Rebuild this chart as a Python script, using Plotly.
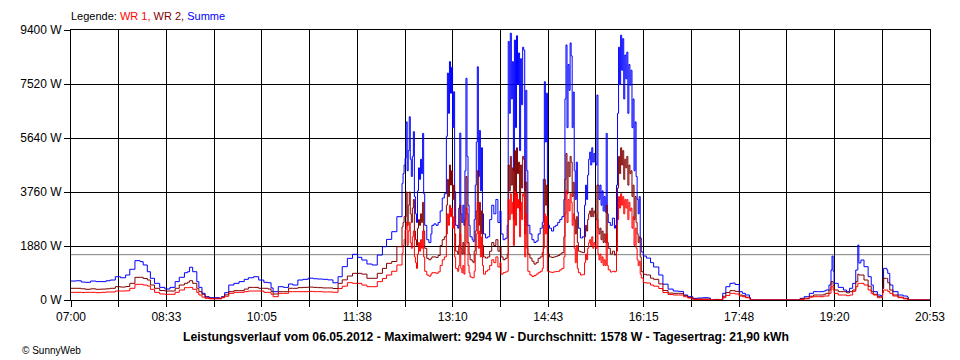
import plotly.graph_objects as go

# ---- data (minutes after 07:00, power in W) ----
minutes = [
    0, 5, 10, 14, 19, 24, 29, 34, 38, 43, 48, 53, 57, 62, 67, 70, 74, 77, 81, 86,
    91, 96, 101, 105, 110, 113, 115, 118, 122, 124, 127, 130, 134, 139, 144, 146, 149, 153, 158, 163,
    168, 172, 177, 182, 187, 191, 194, 196, 201, 206, 211, 215, 220, 225, 230, 235, 239, 244, 249, 254,
    259, 263, 268, 273, 278, 282, 287, 292, 297, 302, 306, 311, 316,
    321, 322, 323, 324, 325, 326, 327, 328, 329, 330, 331, 332, 333, 334, 335, 336, 337, 338, 339, 340,
    341, 342, 343, 345, 347, 349, 350, 352, 354, 356, 358, 360, 362, 364, 365, 366, 367, 368, 369, 370,
    371, 372, 373, 375, 376, 377, 378, 379, 380, 381, 382, 383, 384, 385, 386, 387, 389, 390, 391, 392,
    393, 394, 395, 396, 397, 398, 399, 400, 402, 404, 406, 408, 410, 412, 414, 416, 417, 419, 421, 423,
    424, 425, 426, 427, 428, 429, 430, 431, 432, 433, 434, 435, 436, 437, 438, 439, 440, 441, 442, 443,
    445, 447, 449, 451, 453, 455, 457, 458, 459, 460, 461, 462, 464, 466, 468, 470, 472, 474, 476, 478,
    479, 480, 481, 482, 483, 484, 485, 486, 487, 488, 489, 490, 491, 492, 494, 496, 498, 499, 500, 501,
    502, 503, 504, 505, 506, 507, 508, 509, 510, 511, 512, 513, 514, 515, 516, 517, 518, 519, 520, 521,
    523, 525, 527, 528, 529, 530, 531, 532, 533, 534, 535, 536, 537, 538, 539, 540, 541, 542, 543, 544,
    545, 546, 547, 548, 549, 550, 551, 552, 553, 555,
    558, 562, 565, 570, 574, 579, 584, 589, 594, 598, 603, 608, 613, 618, 620, 624, 628, 632, 635, 639,
    642, 644, 648, 651, 654, 658, 659, 707, 711, 716, 720, 725, 730, 732, 735, 737, 738, 739, 740, 744,
    749, 752, 755, 758, 761, 763, 764, 766, 769, 773, 776, 778, 782, 785, 787, 788, 791, 792, 794, 797,
    802, 807, 811, 812, 833,
]

summe = [
    660, 670, 625, 615, 660, 640, 640, 670, 695, 810, 775, 870, 1070, 1370, 1335, 1220, 985, 755, 580, 440,
    383, 440, 640, 790, 950, 985, 1140, 985, 640, 440, 232, 115, 80, 80, 58, 115, 255, 522, 580, 640,
    720, 775, 810, 695, 615, 600, 420, 290, 463, 440, 557, 520, 696, 720, 760, 740, 730, 720, 700, 600,
    810, 1160, 1450, 1590, 1485, 1392, 1253, 1218, 1566, 1856, 2110, 2378, 2900,
    4060, 4400, 4700, 4940, 6200, 4500, 5200, 6380, 4900, 4300, 5000, 5860, 3600, 3000, 2700, 3800, 4600, 4200, 4900, 4400,
    5800, 3700, 2600, 2100, 2000, 2300, 2600, 2650, 2600, 2700, 3100, 3550, 3700, 5700, 7900, 6500, 8300, 7200, 8100, 6000,
    7250, 3770, 2600, 2500, 3200, 5810, 3000, 2700, 3300, 2600, 4500, 7720, 5000, 3300, 2600, 2200, 2100, 2030, 2800, 4000,
    5500, 8120, 4300, 5900, 3800, 5300, 3000, 2300, 2160, 2200, 2800, 3300, 3000, 3500, 2700, 3100, 2300, 2100, 2150, 2600,
    9000, 6500, 9290, 7000, 8300, 4500, 9050, 6000, 9200, 7500, 8600, 5200, 8400, 6800, 8800, 8700, 3800, 7300, 4500, 2600,
    2300, 2100, 2000, 2050, 2300, 2500, 2700, 4200, 7600, 5500, 7200, 2600, 2500, 2400, 2550, 2600, 2700, 2800, 2900, 3500,
    7000, 8880, 6000, 8200, 7300, 8950, 8500, 6000, 7240, 4500, 3500, 4800, 3060, 2500, 2160, 2200, 3300, 4000, 3500, 4350,
    4900, 5150, 4700, 5300, 4800, 5100, 4800, 4700, 7135, 4000, 3500, 4000, 3300, 3800, 3100, 3600, 3060, 5800, 3000, 2700,
    2600, 2850, 2500, 2600, 4000, 6500, 8800, 7500, 9220, 8000, 9100, 7000, 8530, 7700, 8630, 6500, 8200, 7480, 8000, 6000,
    7000, 4500, 6200, 4300, 3500, 3000, 3600, 2160, 1670, 1530,
    1460, 1300, 1150, 870, 550, 380, 313, 300, 174, 115, 58, 70, 80, 70, 0, 20, 20, 232, 463, 580,
    590, 540, 290, 232, 174, 80, 0, 58, 115, 232, 290, 290, 313, 348, 522, 1044, 1530, 1000, 580, 440,
    348, 290, 407, 580, 1044, 1915, 1288, 1392, 1160, 812, 522, 290, 174, 150, 400, 1102, 1050, 928, 522, 290,
    174, 139, 100, 0, 0,
]

wr2 = [
    407, 407, 390, 372, 390, 372, 380, 390, 407, 463, 450, 470, 580, 790, 790, 750, 696, 522, 407, 330,
    313, 313, 407, 522, 580, 620, 672, 580, 407, 290, 200, 100, 58, 58, 58, 100, 180, 290, 325, 325,
    380, 440, 440, 407, 407, 383, 300, 209, 290, 290, 407, 407, 430, 440, 450, 440, 430, 420, 420, 400,
    580, 700, 835, 928, 928, 900, 755, 755, 928, 1100, 1277, 1340, 1856,
    2550, 2700, 2900, 2900, 3760, 2600, 3300, 3760, 3000, 2700, 3200, 3500, 2400, 2100, 1900, 2500, 2800, 2600, 3000, 2700,
    3400, 2400, 1800, 1450, 1400, 1450, 1500, 1500, 1480, 1550, 1900, 2100, 2200, 3300, 4200, 3600, 4700, 4000, 4500, 3500,
    4000, 2300, 1700, 1600, 1900, 3300, 1800, 1600, 2000, 1600, 2800, 4300, 3000, 2000, 1600, 1400, 1350, 1300, 1700, 2400,
    3100, 4500, 2600, 3400, 2300, 3100, 1900, 1500, 1460, 1500, 1700, 2000, 1900, 2100, 1700, 1850, 1500, 1400, 1450, 1600,
    4700, 3800, 5000, 4000, 4600, 2800, 5200, 3600, 5300, 4400, 4800, 3100, 4700, 3900, 5000, 4900, 2300, 4100, 2600, 1600,
    1460, 1350, 1250, 1300, 1450, 1500, 1650, 2600, 4200, 3300, 4000, 1600, 1500, 1480, 1500, 1520, 1550, 1600, 1650, 2200,
    4200, 5100, 3700, 4800, 4300, 5000, 4800, 3600, 4100, 2800, 2300, 2900, 2000, 1700, 1670, 1650, 2200, 2600, 2400, 2800,
    3000, 3100, 2900, 3200, 2900, 3100, 3000, 2800, 4000, 2500, 2300, 2500, 2100, 2400, 2000, 2300, 2000, 3300, 2000, 1800,
    1600, 1700, 1566, 1600, 2600, 3900, 5000, 4400, 5300, 4700, 5200, 4200, 4900, 4600, 5000, 4000, 4700, 4400, 4500, 3600,
    4000, 2800, 3600, 2700, 2300, 2000, 2200, 1500, 985, 894,
    870, 760, 720, 560, 330, 240, 232, 232, 150, 90, 35, 35, 35, 35, 0, 10, 15, 130, 260, 325,
    325, 300, 174, 150, 100, 35, 0, 35, 60, 130, 174, 174, 200, 232, 348, 638, 638, 500, 348, 290,
    290, 250, 290, 348, 638, 900, 870, 870, 696, 480, 290, 200, 115, 115, 400, 754, 754, 600, 348, 174,
    100, 60, 40, 0, 0,
]

wr1 = [
    267, 267, 260, 267, 267, 255, 267, 278, 278, 313, 313, 320, 407, 545, 545, 520, 487, 372, 267, 210,
    198, 198, 267, 348, 430, 430, 440, 372, 255, 174, 100, 58, 40, 40, 40, 80, 130, 232, 267, 267,
    290, 313, 313, 313, 267, 267, 200, 115, 232, 232, 290, 290, 290, 290, 300, 290, 290, 280, 280, 270,
    400, 480, 603, 580, 580, 520, 463, 463, 638, 750, 870, 1000, 1218,
    1625, 1900, 2100, 2437, 2700, 1900, 2400, 2700, 2000, 1800, 2200, 2400, 1500, 1300, 1100, 1600, 2000, 1700, 2100, 1800,
    2400, 1500, 1000, 870, 830, 900, 950, 950, 930, 980, 1200, 1400, 1500, 2300, 3000, 2600, 3300, 2900, 3200, 2500,
    2900, 1500, 1100, 1000, 1200, 2300, 1100, 950, 1200, 900, 1900, 3200, 2000, 1200, 950, 800, 770, 780, 1000, 1600,
    2300, 3400, 1800, 2400, 1500, 2200, 1200, 900, 1000, 1050, 1200, 1400, 1300, 1500, 1150, 1300, 900, 950, 975, 1000,
    3500, 2800, 3700, 3000, 3400, 1900, 3800, 2600, 3700, 3200, 3500, 2200, 3400, 2800, 3700, 3600, 1500, 3000, 1800, 1000,
    870, 820, 850, 900, 950, 1000, 1100, 1800, 3000, 2300, 2900, 1000, 975, 960, 980, 990, 1000, 1050, 1100, 1500,
    3000, 3800, 2700, 3500, 3100, 3700, 3400, 2600, 3000, 1800, 1300, 1900, 1100, 950, 870, 880, 1300, 1600, 1400, 1800,
    2000, 2100, 1900, 2200, 1800, 2000, 1900, 1800, 2800, 1600, 1400, 1600, 1300, 1500, 1200, 1400, 1200, 2300, 1200, 1050,
    975, 1000, 975, 1000, 1700, 2800, 3600, 3200, 3700, 3300, 3600, 3000, 3500, 3200, 3500, 2800, 3400, 3100, 3200, 2500,
    2900, 1900, 2500, 1800, 1400, 1200, 1350, 900, 766, 603,
    590, 520, 480, 400, 260, 190, 174, 174, 115, 70, 15, 15, 15, 15, 0, 5, 10, 80, 160, 232,
    232, 210, 139, 115, 80, 35, 0, 20, 40, 100, 115, 115, 139, 139, 232, 463, 463, 350, 232, 174,
    174, 150, 174, 300, 463, 580, 580, 580, 522, 348, 232, 174, 80, 80, 250, 348, 348, 300, 232, 139,
    80, 40, 20, 0, 0,
]

average_w = 1578

x_tick_labels = ["07:00", "", "08:33", "", "10:05", "", "11:38", "", "13:10", "",
                 "14:43", "", "16:15", "", "17:48", "", "19:20", "", "20:53"]
day_minutes = 833
y_tick_values = [0, 1880, 3760, 5640, 7520, 9400]
y_tick_labels = ["0 W", "1880 W", "3760 W", "5640 W", "7520 W", "9400 W"]

title_text = ("Leistungsverlauf vom 06.05.2012 - Maximalwert: 9294 W - "
              "Durchschnitt: 1578 W - Tagesertrag: 21,90 kWh")

FONT = "Liberation Sans"

fig = go.Figure()
fig.add_trace(go.Scatter(x=minutes, y=summe, mode="lines", name="Summe",
                         line=dict(color="#0000FF", width=1, shape="hv")))
fig.add_trace(go.Scatter(x=minutes, y=wr2, mode="lines", name="WR 2",
                         line=dict(color="#800000", width=1, shape="hv")))
fig.add_trace(go.Scatter(x=minutes, y=wr1, mode="lines", name="WR 1",
                         line=dict(color="#FF0000", width=1, shape="hv")))

fig.add_shape(type="line", xref="paper", x0=0, x1=1, yref="y", y0=average_w, y1=average_w,
              line=dict(color="#808080", width=1), layer="between")

n = len(x_tick_labels) - 1
fig.update_xaxes(range=[0, day_minutes],
                 tickvals=[i * day_minutes / n for i in range(n + 1)],
                 ticktext=x_tick_labels,
                 showgrid=True, gridcolor="black", gridwidth=1,
                 ticks="outside", ticklen=6, tickcolor="black", tickwidth=1,
                 showline=True, linecolor="black", linewidth=1, mirror=True,
                 zeroline=False, tickfont=dict(family=FONT, size=12, color="black"))
fig.update_yaxes(range=[0, 9400], tickvals=y_tick_values, ticktext=y_tick_labels,
                 showgrid=True, gridcolor="black", gridwidth=1,
                 ticks="outside", ticklen=6, tickcolor="black", tickwidth=1,
                 showline=True, linecolor="black", linewidth=1, mirror=True,
                 zeroline=False, tickfont=dict(family=FONT, size=12, color="black"))

fig.add_annotation(
    xref="paper", yref="paper", x=0, y=1, xanchor="left", yanchor="middle",
    yshift=14, xshift=-2, showarrow=False,
    text=("Legende: <span style='color:#FF0000'>WR 1, </span>"
          "<span style='color:#800000'>WR 2, </span>"
          "<span style='color:#0000FF'>Summe</span>"),
    font=dict(family=FONT, size=11, color="black"))
fig.add_annotation(
    xref="paper", yref="paper", x=0.4828, y=0, xanchor="center", yanchor="middle",
    yshift=-37, showarrow=False, text="<b>" + title_text + "</b>",
    font=dict(family=FONT, size=12.2, color="black"))
fig.add_annotation(
    xref="paper", yref="paper", x=-0.0598, y=0, xanchor="left", yanchor="middle",
    yshift=-50, showarrow=False, text="© SunnyWeb",
    font=dict(family=FONT, size=10, color="black"))

# the page body adds an 8 px offset, so the figure is 8 px smaller on each axis
fig.update_layout(width=952, height=352,
                  margin=dict(l=52, r=30, t=22, b=60),
                  paper_bgcolor="white", plot_bgcolor="white",
                  showlegend=False, font=dict(family=FONT, size=11, color="black"))

fig.write_html("out.html", config={"displayModeBar": False})
